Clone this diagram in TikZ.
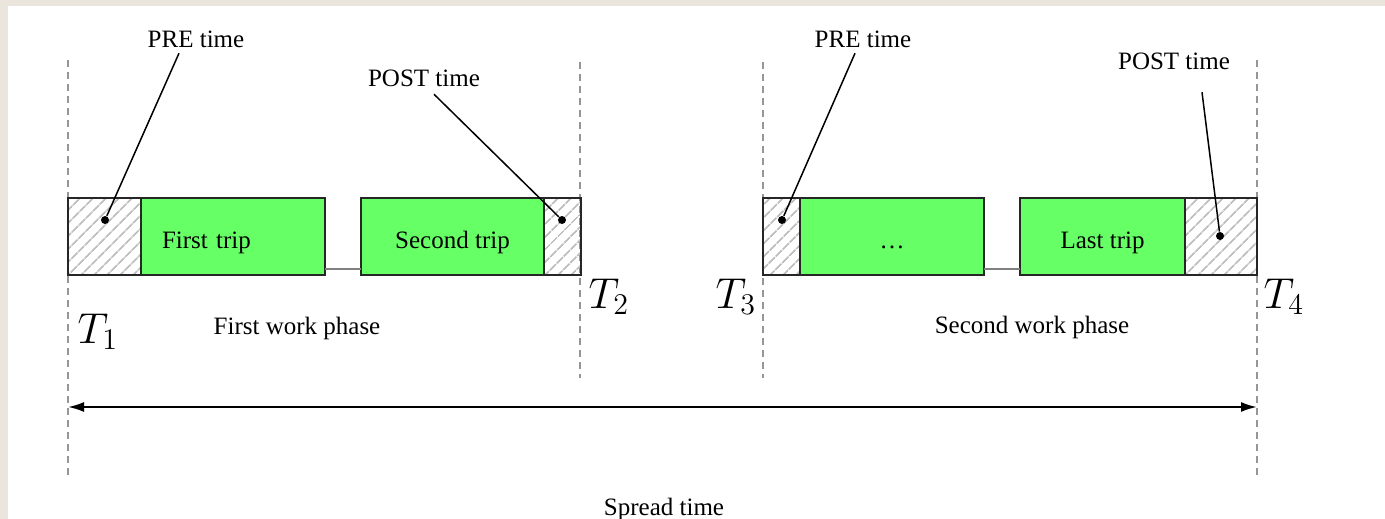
\documentclass[tikz,border=0pt]{standalone}
\usepackage{fontspec}
\setmainfont{Liberation Serif}
\usetikzlibrary{positioning,patterns.meta,arrows.meta,calc}
\newlength{\px}\setlength{\px}{0.4pt}
\definecolor{tripgreen}{RGB}{102,255,102}
\definecolor{paper}{RGB}{234,230,221}
\definecolor{guidegray}{RGB}{150,150,150}
\begin{document}
\begin{tikzpicture}[x=1\px,y=-1\px,
    box/.style={draw=black!85, line width=0.7pt, minimum height=77\px, inner sep=0pt, outer sep=0pt, text height=9.2pt, text depth=0pt},
    trip/.style={box, fill=tripgreen},
    slack/.style={box, pattern={Lines[angle=45,distance=4pt,line width=0.8pt]}, pattern color=black!25},
    lbl/.style={anchor=base, inner sep=1pt},
    tlbl/.style={anchor=base west, inner sep=0pt, font=\fontsize{17}{20}\selectfont},
    guide/.style={guidegray, line width=0.8pt, dash pattern=on 2.8pt off 2pt},
    gap/.style={black!50, line width=0.8pt},
    leader/.style={line width=0.6pt},
    dot/.style={fill, circle, inner sep=0pt, minimum size=8\px}]
    \useasboundingbox (0,0) rectangle (1385,519);
    \fill[paper] (0,0) rectangle (1385,519);
    \fill[white] (8,6) rectangle (1385,519);
    % time marks
    \draw[guide] (68,60) -- (68,478);
    \draw[guide] (580,62) -- (580,378);
    \draw[guide] (763,62) -- (763,378);
    \draw[guide] (1257,60) -- (1257,478);
    % first work phase
    \node[slack, minimum width=73\px] (pre1) at (104.5,236.5) {};
    \node[trip, minimum width=184\px, inner xsep=21\px, text width=142\px, align=left, right=0pt of pre1] (trip1) {First trip};
    \node[trip, minimum width=183\px] (trip2) at (452.5,236.5) {Second trip};
    \node[slack, minimum width=37\px, right=0pt of trip2] (post1) {};
    \draw[gap] ($(trip1.south east)+(0,-6)$) -- ($(trip2.south west)+(0,-6)$);
    % second work phase
    \node[slack, minimum width=37\px] (pre2) at (781.5,236.5) {};
    \node[trip, minimum width=184\px, right=0pt of pre2] (trip3) {\dots};
    \node[trip, minimum width=165\px] (trip4) at (1102.5,236.5) {Last trip};
    \node[slack, minimum width=72\px, right=0pt of trip4] (post2) {};
    \draw[gap] ($(trip3.south east)+(0,-6)$) -- ($(trip4.south west)+(0,-6)$);
    % PRE and POST callouts
    \node[dot] (d1) at (105,220) {};
    \node[dot] (d2) at (562,220) {};
    \node[dot] (d3) at (782,220) {};
    \node[dot] (d4) at (1220,236) {};
    \node[lbl] (lblpre1) at (196,48) {PRE time};
    \node[lbl] (lblpost1) at (424,87) {POST time};
    \node[lbl] (lblpre2) at (863,48) {PRE time};
    \node[lbl] (lblpost2) at (1174,70) {POST time};
    \draw[leader] ($(lblpre1.south)+(-17,2)$) -- (d1);
    \draw[leader] ($(lblpost1.south)+(10,4)$) -- (d2);
    \draw[leader] ($(lblpre2.south)+(-8,2)$) -- (d3);
    \draw[leader] ($(lblpost2.south)+(28,19)$) -- (d4);
    % instants
    \node[tlbl] (t1) at (77,343) {$T_1$};
    \node[tlbl] (t2) at (588,308) {$T_2$};
    \node[tlbl] (t3) at (715,308) {$T_3$};
    \node[tlbl] (t4) at (1263,308) {$T_4$};
    \node[lbl] (ph1) at (297,334) {First work phase};
    \node[lbl] (ph2) at (1032,333) {Second work phase};
    % spread
    \coordinate (s1) at (68,407);
    \coordinate (s4) at (1257,407);
    \draw[{Latex[length=6.4pt,width=4pt]}-{Latex[length=6.4pt,width=4pt]}, line width=0.8pt] (s1) -- (s4);
    \node[lbl] (spread) at (664,515) {Spread time};
\end{tikzpicture}
\end{document}
